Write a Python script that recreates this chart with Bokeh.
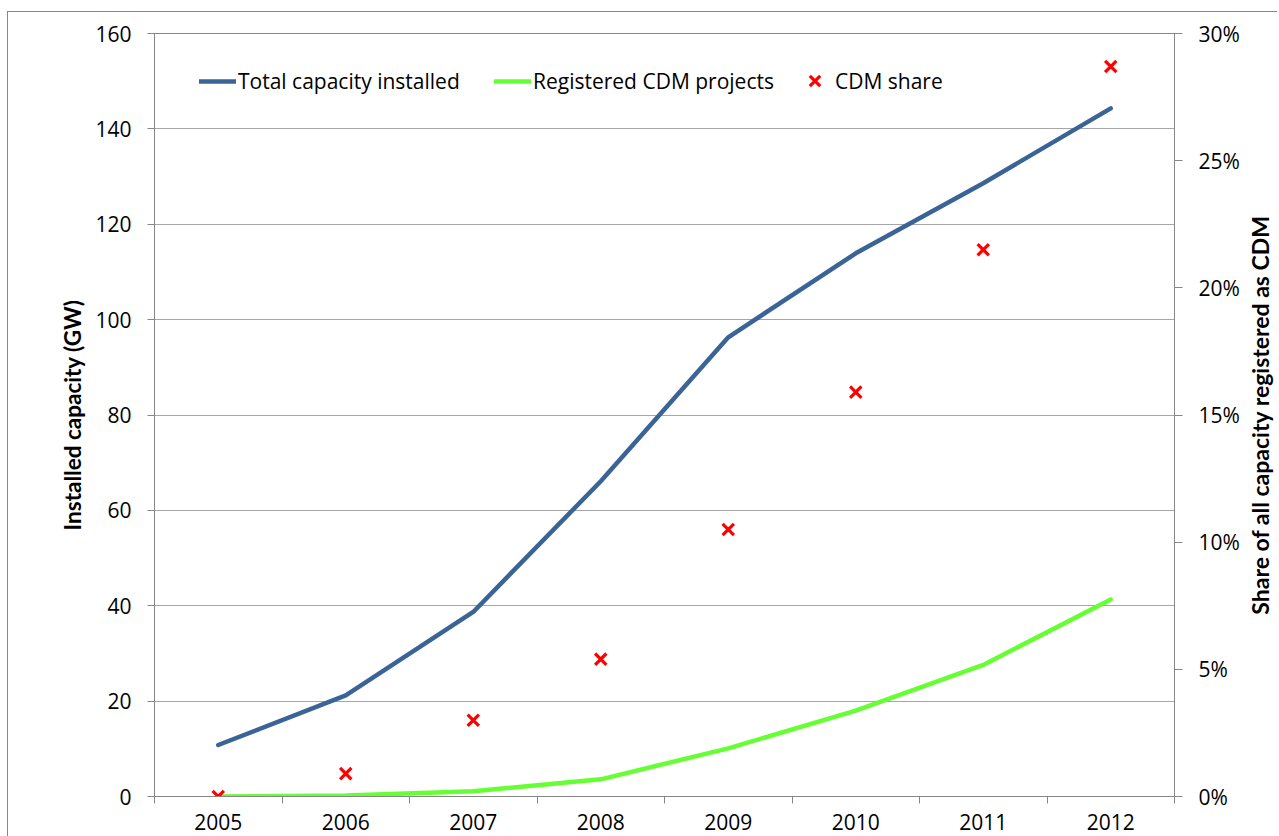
from bokeh.plotting import figure
from bokeh.models import (Range1d, LinearAxis, FixedTicker, Legend, LegendItem,
                          ColumnDataSource, Div)
from bokeh.layouts import row
from bokeh.embed import file_html
from bokeh.resources import INLINE

# ---- data ----
years = ["2005", "2006", "2007", "2008", "2009", "2010", "2011", "2012"]
total_capacity_gw = [10.8, 21.2, 38.7, 66.1, 96.3, 113.9, 128.6, 144.3]
cdm_registered_gw = [0.0, 0.2, 1.1, 3.6, 10.1, 18.0, 27.6, 41.3]
cdm_share_pct = [0.0, 0.9, 3.0, 5.4, 10.5, 15.9, 21.5, 28.7]
left_ticks = [0, 20, 40, 60, 80, 100, 120, 140, 160]
right_ticks = [0, 5, 10, 15, 20, 25, 30]
right_tick_labels = ["0%", "5%", "10%", "15%", "20%", "25%", "30%"]
left_title = "Installed capacity (GW)"
right_title = "Share of all capacity registered as CDM"

x_pos = [i + 0.5 for i in range(len(years))]
src = ColumnDataSource(dict(x=x_pos, year=years, total=total_capacity_gw,
                            cdm=cdm_registered_gw, share=cdm_share_pct))

FONT = "Open Sans"
AX = "#868686"

p = figure(width=1237, height=824, x_range=Range1d(0, len(years)),
           y_range=Range1d(0, 160), output_backend="svg", toolbar_location=None,
           min_border_left=146, min_border_right=71, min_border_top=21,
           min_border_bottom=40, border_fill_color="white",
           background_fill_color="white", outline_line_color=AX)
p.extra_y_ranges = {"share": Range1d(0, 30)}

# x axis: labels at centres, ticks at band boundaries (minor ticks)
xa = p.xaxis[0]
xa.ticker = FixedTicker(ticks=x_pos, minor_ticks=list(range(len(years) + 1)))
xa.major_label_overrides = {x: y for x, y in zip(x_pos, years)}
xa.major_tick_out = 0
xa.major_tick_in = 0
xa.minor_tick_out = 7
xa.minor_tick_in = 0
xa.minor_tick_line_color = AX
xa.major_label_text_font = FONT
xa.major_label_text_font_size = "21px"
xa.major_label_text_color = "black"
xa.major_label_standoff = 10
xa.axis_line_color = AX
p.xgrid.visible = False

# left axis
ya = p.yaxis[0]
ya.ticker = FixedTicker(ticks=left_ticks)
ya.major_tick_out = 7
ya.major_tick_in = 0
ya.minor_tick_line_color = None
ya.axis_line_color = AX
ya.major_tick_line_color = AX
ya.major_label_text_font = FONT
ya.major_label_text_font_size = "21px"
ya.major_label_text_color = "black"
ya.major_label_standoff = 16
ya.axis_label = left_title
ya.axis_label_text_font = "Lato"
ya.axis_label_text_font_style = "bold"
ya.axis_label_text_font_size = "22.5px"
ya.axis_label_text_color = "black"
ya.axis_label_standoff = 6
p.ygrid.ticker = FixedTicker(ticks=left_ticks)
p.ygrid.grid_line_color = "#A6A6A6"
p.ygrid.grid_line_width = 1

# right axis (title drawn beside it so that it reads bottom-to-top)
ra = LinearAxis(y_range_name="share", ticker=FixedTicker(ticks=right_ticks),
                major_label_overrides={t: l for t, l in zip(right_ticks, right_tick_labels)})
ra.major_tick_out = 8
ra.major_tick_in = 0
ra.minor_tick_line_color = None
ra.axis_line_color = AX
ra.major_tick_line_color = AX
ra.major_label_text_font = FONT
ra.major_label_text_font_size = "21px"
ra.major_label_text_color = "black"
ra.major_label_standoff = 16
p.add_layout(ra, "right")

# series
r_total = p.line("x", "total", source=src, line_color="#3B6496", line_width=4.5,
                 line_cap="round", line_join="round")
r_cdm = p.line("x", "cdm", source=src, line_color="#66FF33", line_width=4.5,
               line_cap="round", line_join="round")
r_share = p.scatter("x", "share", source=src, y_range_name="share", marker="x",
                    size=16, line_color="#FF0000", line_width=3.2)


def add_legend(label, renderer, vx, vy, gh):
    leg = Legend(items=[LegendItem(label=label, renderers=[renderer])],
                 location=(vx, vy), orientation="horizontal",
                 glyph_width=37, glyph_height=gh, label_standoff=2,
                 padding=0, margin=0, spacing=0, border_line_color=None,
                 background_fill_alpha=0, label_text_font=FONT,
                 label_text_font_size="21px", label_text_color="black")
    p.add_layout(leg)


add_legend("Total capacity installed", r_total, 45, 701, 20)
add_legend("Registered CDM projects", r_cdm, 340, 701, 20)
add_legend("CDM share", r_share, 642, 697, 37)

title_div = Div(
    width=32, height=824,
    text=('<div style="width:30px;height:806px;display:flex;align-items:center;'
          'justify-content:center;">'
          '<span style="writing-mode:vertical-rl;transform:rotate(180deg);'
          'font-family:Lato;font-weight:bold;font-size:23px;color:#000;'
          'white-space:nowrap;line-height:1;">' + right_title + '</span></div>'),
    styles={"margin": "0", "padding": "0"})

layout = row(p, title_div, spacing=0,
             styles={"margin-left": "7px", "margin-top": "11px",
                     "border-left": "1px solid #878787",
                     "border-top": "1px solid #878787"})

open("out.html", "w").write(file_html(layout, INLINE))
